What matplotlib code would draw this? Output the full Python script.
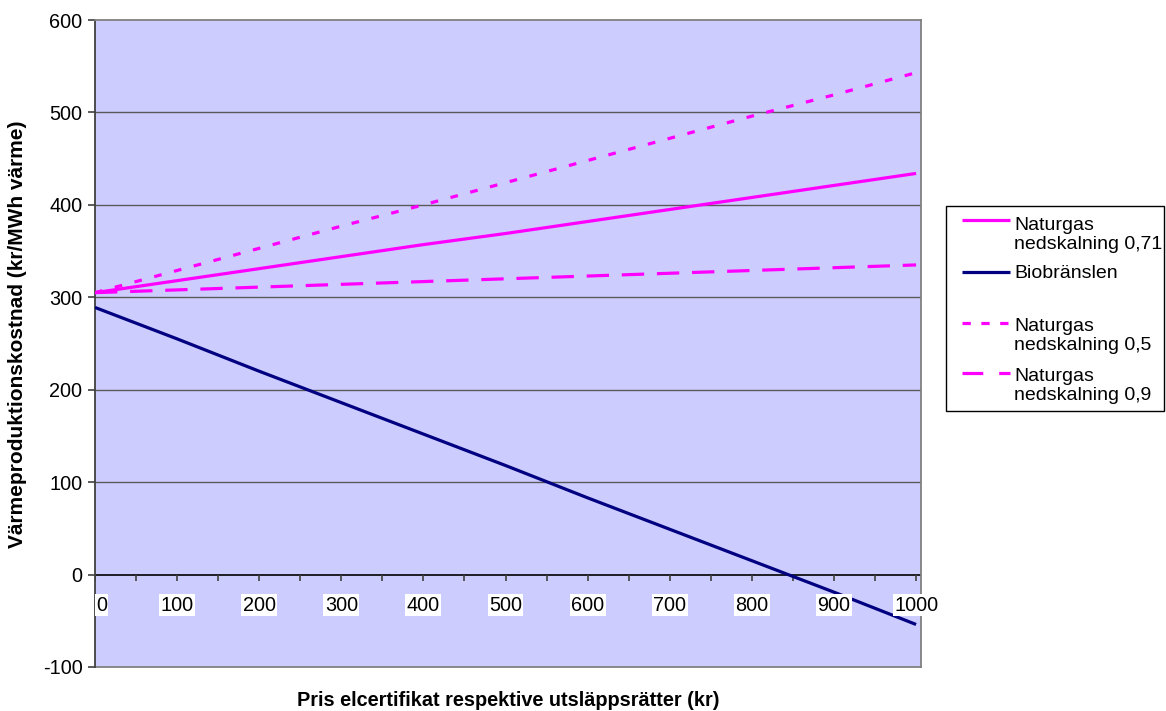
import matplotlib
matplotlib.use("Agg")
import matplotlib.pyplot as plt
from matplotlib.lines import Line2D
from matplotlib.patches import Rectangle

plt.rcParams['font.family'] = ['Liberation Sans', 'DejaVu Sans']
plt.rcParams['axes.unicode_minus'] = False

# Price of certificates / emission allowances (kr)
pris = [0, 100, 200, 300, 400, 500, 600, 700, 800, 900, 1000]

# Heat production cost (kr/MWh heat)
naturgas_071 = [305, 318, 331, 344, 357, 369, 382, 395, 408, 421, 434]
biobranslen = [289, 255, 220, 186, 152, 118, 83, 49, 15, -19, -54]
naturgas_05 = [305, 329, 353, 377, 400, 424, 448, 472, 496, 519, 543]
naturgas_09 = [305, 308, 311, 314, 317, 320, 323, 326, 329, 332, 335]

y_ticks = [-100, 0, 100, 200, 300, 400, 500, 600]
x_ticks = [0, 100, 200, 300, 400, 500, 600, 700, 800, 900, 1000]

legend_labels = ['Naturgas\nnedskalning 0,71', 'Biobränslen', '',
                 'Naturgas\nnedskalning 0,5', 'Naturgas\nnedskalning 0,9']

magenta = '#FF00FF'
navy = '#000080'

W, H = 1166, 711
fig = plt.figure(figsize=(W / 100, H / 100), dpi=100)
ax = fig.add_axes([95 / W, 1 - 667 / H, 826 / W, 647 / H])
ax.set_facecolor('#CCCCFF')

ax.set_xlim(0, 1006)
ax.set_ylim(-100, 600)

# Horizontal gridlines
for yv in y_ticks:
    if yv not in (0, -100, 600):
        ax.axhline(yv, color='#5a5a5a', lw=1.0, zorder=1)

lw = 2.3
styles = [dict(color=magenta, linestyle='-'),
          dict(color=navy, linestyle='-'),
          None,
          dict(color=magenta, dashes=(2.4, 4.0)),
          dict(color=magenta, dashes=(7.0, 4.0))]
series = [naturgas_071, biobranslen, None, naturgas_05, naturgas_09]
for vals, st in zip(series, styles):
    if vals is None:
        continue
    ax.plot(pris, vals, lw=lw, solid_capstyle='butt', zorder=3, **st)

# Frame
for side in ('right', 'top'):
    ax.spines[side].set_color('#808080')
    ax.spines[side].set_linewidth(1.3)
ax.spines['left'].set_color('#404040')
ax.spines['left'].set_linewidth(1.3)
ax.spines['bottom'].set_visible(False)
ax.axhline(-100, color='#808080', lw=1.3, zorder=2, clip_on=False)

# X axis crossing at zero, with ticks every 50
ax.axhline(0, color='black', lw=1.2, zorder=2)
ax.set_xticks([])
for xv in range(0, 1001, 50):
    ax.plot([xv, xv], [0, -6.5], color='#404040', lw=1.2, zorder=2,
            solid_capstyle='butt')
for xv in x_ticks:
    ax.text(xv + (8 if xv == 0 else 0), -33, str(xv), ha='center', va='center',
            fontsize=14.3, bbox=dict(facecolor='white', edgecolor='none', pad=1.0),
            zorder=4)

ax.set_yticks(y_ticks)
ax.tick_params(axis='y', direction='out', length=5, width=1.2, color='#404040',
               labelsize=14.3, pad=4)

fig.text(18 / W, 1 - 334 / H, 'Värmeproduktionskostnad (kr/MWh värme)',
         rotation=90, ha='center', va='center', fontsize=15, fontweight='bold')
fig.text(508 / W, 1 - 700 / H, 'Pris elcertifikat respektive utsläppsrätter (kr)',
         ha='center', va='center', fontsize=14.3, fontweight='bold')

# Legend box
fig.add_artist(Rectangle((946 / W, 1 - 411 / H), 218 / W, 205 / H,
                         transform=fig.transFigure, facecolor='white',
                         edgecolor='black', lw=1.0))
handle_y = [220, 272, None, 323, 373]
text_y = [235, 273, None, 336, 386]
legend_dashes = [None, None, None, (2.6, 3.3), (6.5, 5.0)]
for lab, st, hy, ty, ds in zip(legend_labels, styles, handle_y, text_y, legend_dashes):
    if st is None:
        continue
    kw = dict(color=st['color'], lw=lw, solid_capstyle='butt')
    if ds is not None:
        kw['dashes'] = ds
    fig.add_artist(Line2D([962 / W, 1010 / W], [1 - hy / H, 1 - hy / H],
                          transform=fig.transFigure, **kw))
    fig.text(1014 / W, 1 - ty / H, lab, ha='left', va='center', fontsize=14,
             linespacing=1.1)

fig.savefig('out.png', dpi=100)
